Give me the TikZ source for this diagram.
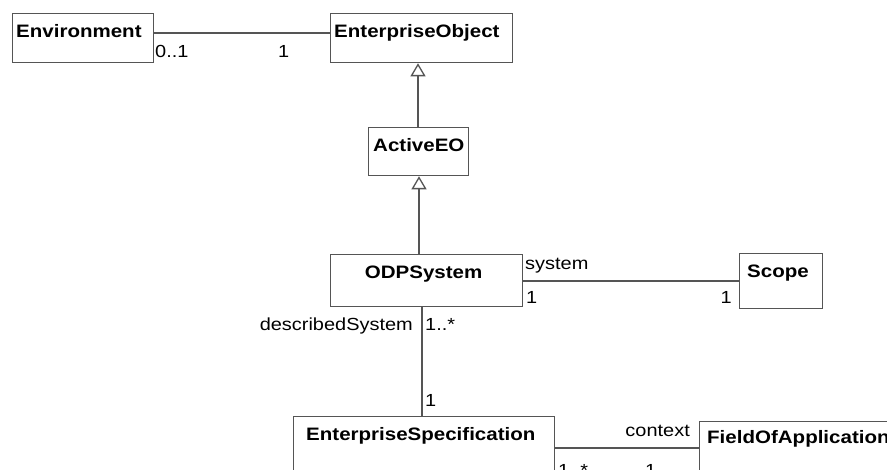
\documentclass[tikz,border=0pt]{standalone}
\usepackage{fontspec}
\setmainfont{Liberation Sans}[FakeStretch=1.14]
\usetikzlibrary{arrows.meta,calc}
\definecolor{lc}{RGB}{85,85,85}
\tikzset{
  cls/.style={draw=lc, line width=1.3pt, fill=white, inner sep=0pt, anchor=north west},
  ttl/.style={font=\fontsize{18}{20}\selectfont\bfseries, anchor=base west, inner sep=0pt},
  lbl/.style={font=\fontsize{17.5}{19}\selectfont, inner sep=0pt},
  assoc/.style={draw=lc, line width=1.3pt},
  gen/.style={draw=lc, line width=1.3pt, -{Triangle[open, length=13pt, width=15pt, fill=white]}}
}
\begin{document}
\begin{tikzpicture}[x=1pt, y=-1pt]
\useasboundingbox (0,0) rectangle (887,470);
\clip (0,0) rectangle (887,470);
% classes
\node[cls, minimum width=141pt, minimum height=49pt] (env) at (12,13) {};
\node[ttl] (envt) at ($(env.north west)+(4,25)$) {Environment};
\node[cls, minimum width=182pt, minimum height=49pt] (eo) at (330,13) {};
\node[ttl] (eot) at ($(eo.north west)+(4,25)$) {EnterpriseObject};
\node[cls, minimum width=100pt, minimum height=48pt] (active) at (368,127) {};
\node[ttl] (activet) at ($(active.north west)+(5,25)$) {ActiveEO};
\node[cls, minimum width=192pt, minimum height=52pt] (odp) at (330,254) {};
\node[ttl, anchor=base] (odpt) at ($(odp.north)+(-3,25)$) {ODPSystem};
\node[cls, minimum width=83pt, minimum height=55pt] (scope) at (739,253) {};
\node[ttl] (scopet) at ($(scope.north west)+(8,25)$) {Scope};
\node[cls, minimum width=261pt, minimum height=80pt] (es) at (293,416) {};
\node[ttl] (est) at ($(es.north west)+(13,25)$) {EnterpriseSpecification};
\node[cls, minimum width=210pt, minimum height=80pt] (foa) at (699,421) {};
\node[ttl] (foat) at ($(foa.north west)+(8,23)$) {FieldOfApplication};
% generalizations
\draw[gen] (active.north -| 418,0) -- (eo.south -| 418,0);
\draw[gen] (odp.north -| 419,0) -- (active.south -| 419,0);
% associations
\draw[assoc] (env.east |- 0,33) -- (eo.west |- 0,33);
\node[lbl, anchor=base west] (m1) at (155,58) {0..1};
\node[lbl, anchor=base west] (m2) at (278,58) {1};
\draw[assoc] (odp.east |- 0,281) -- (scope.west |- 0,281);
\node[lbl, anchor=base west] (r1) at (525,270) {system};
\node[lbl, anchor=base west] (m3) at (526,304) {1};
\node[lbl, anchor=base east] (m4) at (732,304) {1};
\draw[assoc] (odp.south -| 422,0) -- (es.north -| 422,0);
\node[lbl, anchor=base east] (r2) at (413,331) {describedSystem};
\node[lbl, anchor=base west] (m5) at (425,331) {1..*};
\node[lbl, anchor=base west] (m6) at (425,407) {1};
\draw[assoc] (es.east |- 0,448) -- (foa.west |- 0,448);
\node[lbl, anchor=base east] (r3) at (690,436) {context};
\node[lbl, anchor=base west] (m7) at (558,476) {1..*};
\node[lbl, anchor=base west] (m8) at (645,476) {1};
\end{tikzpicture}
\end{document}
